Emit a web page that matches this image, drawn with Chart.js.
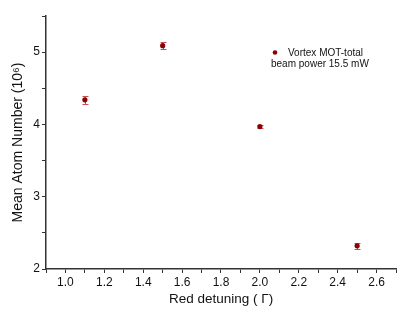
<!DOCTYPE html>
<html><head><meta charset="utf-8">
<script src="https://cdn.jsdelivr.net/npm/chart.js@4/dist/chart.umd.min.js"></script>
<style>html,body{margin:0;padding:0;background:#fff;}canvas{display:block}</style>
</head><body>
<canvas id="c" width="407" height="312"></canvas>
<script>
const detuning = [1.1, 1.5, 2.0, 2.5];
const atomNumber = [4.34, 5.09, 3.97, 2.32];
const atomError = [0.06, 0.05, 0.02, 0.04];
const legendLines = ['Vortex MOT-total', 'beam power 15.5 mW'];
const xTitle = 'Red detuning ( \u0393)';
const yTitle = 'Mean Atom Number (10\u2076)';
const xRange = [0.9, 2.7];
const yRange = [2, 5.5];

const markColor = '#8b0000';
const barColor = '#c85050';
const axisColor = '#333333';
const fontFamily = '"Liberation Sans", Arial, sans-serif';

const errorBars = {
  id: 'errorBars',
  beforeDatasetsDraw(chart) {
    const {ctx, scales: {x, y}} = chart;
    ctx.save();
    ctx.strokeStyle = barColor;
    ctx.lineWidth = 1;
    detuning.forEach((d, i) => {
      const px = Math.round(x.getPixelForValue(d)) + 0.5;
      const top = Math.round(y.getPixelForValue(atomNumber[i] + atomError[i])) + 0.5;
      const bot = Math.round(y.getPixelForValue(atomNumber[i] - atomError[i])) + 0.5;
      ctx.beginPath();
      ctx.moveTo(px, top); ctx.lineTo(px, bot);
      ctx.moveTo(px - 3, top); ctx.lineTo(px + 3, top);
      ctx.moveTo(px - 3, bot); ctx.lineTo(px + 3, bot);
      ctx.stroke();
    });
    ctx.restore();
  }
};

const legendBox = {
  id: 'legendBox',
  afterDraw(chart) {
    const {ctx} = chart;
    ctx.save();
    ctx.fillStyle = markColor;
    ctx.beginPath();
    ctx.arc(275, 52.5, 2.3, 0, Math.PI * 2);
    ctx.fill();
    ctx.fillStyle = '#111';
    ctx.font = '10px ' + fontFamily;
    ctx.textBaseline = 'middle';
    ctx.textAlign = 'left';
    ctx.fillText(legendLines[0], 288, 53);
    ctx.fillText(legendLines[1], 271, 64.5);
    ctx.restore();
  }
};

new Chart(document.getElementById('c'), {
  type: 'scatter',
  data: {
    datasets: [{
      label: legendLines.join(' '),
      data: detuning.map((d, i) => ({x: d, y: atomNumber[i]})),
      backgroundColor: markColor,
      borderColor: markColor,
      pointRadius: 2.6,
      pointHoverRadius: 2.6,
      borderWidth: 0
    }]
  },
  options: {
    responsive: false,
    animation: false,
    devicePixelRatio: 1,
    layout: {padding: {top: 16, right: 11, left: 0, bottom: 0}},
    plugins: {legend: {display: false}, tooltip: {enabled: false}},
    scales: {
      x: {
        type: 'linear',
        min: xRange[0], max: xRange[1],
        afterFit(s) { s.height = 43; },
        afterBuildTicks(s) {
          const t = [];
          for (let k = 9; k <= 27; k++) t.push({value: k / 10});
          s.ticks = t;
        },
        ticks: {
          autoSkip: false, maxRotation: 0,
          color: '#111', padding: 2,
          font: {family: fontFamily, size: 12},
          callback: (v) => { const k = Math.round(v * 10); return k % 2 === 0 ? (k / 10).toFixed(1) : ''; }
        },
        grid: {drawOnChartArea: false, tickLength: 4, tickColor: axisColor, tickWidth: 1},
        border: {display: true, color: axisColor, width: 1.5},
        title: {display: true, text: xTitle, color: '#111', font: {family: fontFamily, size: 13.5}, padding: {top: 0, bottom: 5}}
      },
      y: {
        type: 'linear',
        min: yRange[0], max: yRange[1],
        afterFit(s) { s.width = 46; },
        afterBuildTicks(s) {
          const t = [];
          for (let k = 4; k <= 11; k++) t.push({value: k / 2});
          s.ticks = t;
        },
        ticks: {
          autoSkip: false,
          color: '#111', padding: 2,
          font: {family: fontFamily, size: 12},
          callback: (v) => Number.isInteger(v) ? String(v) : ''
        },
        grid: {drawOnChartArea: false, tickLength: 4, tickColor: axisColor, tickWidth: 1},
        border: {display: true, color: axisColor, width: 1.5},
        title: {display: true, text: yTitle, color: '#111', font: {family: fontFamily, size: 14}, padding: {top: 10, bottom: 0}}
      }
    }
  },
  plugins: [errorBars, legendBox]
});
</script>
</body></html>
